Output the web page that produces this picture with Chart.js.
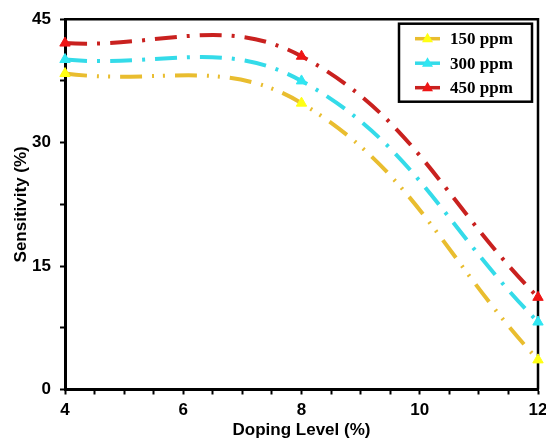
<!DOCTYPE html>
<html>
<head>
<meta charset="utf-8">
<script src="https://cdn.jsdelivr.net/npm/chart.js@4.4.0/dist/chart.umd.min.js"></script>
<style>
  html, body { margin: 0; padding: 0; background: #fff; }
  #wrap { width: 546px; height: 441px; }
</style>
</head>
<body>
<div id="wrap"><canvas id="sensChart"></canvas></div>
<script>
// doping level (%) vs sensitivity (%) at three gas concentrations
const dopingLevels = [4, 8, 12];
const sens150 = [38.4, 34.8, 3.6];
const sens300 = [40.1, 37.5, 8.2];
const sens450 = [42.1, 40.5, 11.2];
const seriesLabels = ['150 ppm', '300 ppm', '450 ppm'];
const xTickLabels = [4, 6, 8, 10, 12];
const yTickLabels = [0, 15, 30, 45];

const AXIS_FONT = { family: 'Liberation Sans, Arial, sans-serif', size: 17, weight: 'bold' };

function toPoints(vals) {
  return dopingLevels.map((x, i) => ({ x: x, y: vals[i] }));
}

function makeSeries(label, vals, line, marker, dash) {
  return {
    label: label,
    data: toPoints(vals),
    borderColor: line,
    backgroundColor: marker,
    borderWidth: 4,
    borderDash: dash,
    pointStyle: 'triangle',
    pointRadius: 6,
    pointBackgroundColor: marker,
    pointBorderColor: marker,
    pointBorderWidth: 1,
    tension: 0.4,
    fill: false,
    clip: false
  };
}

// top + right edges of the plot box (left/bottom come from the axes)
const frameBox = {
  id: 'frameBox',
  beforeDatasetsDraw(chart) {
    const { ctx, chartArea: a } = chart;
    ctx.save();
    ctx.strokeStyle = '#000';
    ctx.lineWidth = 2.5;
    ctx.beginPath();
    ctx.moveTo(a.left, a.top);
    ctx.lineTo(a.right, a.top);
    ctx.lineTo(a.right, a.bottom);
    ctx.stroke();
    ctx.restore();
  }
};

// boxed legend in the top-right corner of the plot
const boxLegend = {
  id: 'boxLegend',
  afterDraw(chart) {
    const { ctx, chartArea: a } = chart;
    const w = 133, h = 78;
    const left = a.right - 6 - w;
    const top = a.top + 4.5;
    ctx.save();
    ctx.fillStyle = '#fff';
    ctx.fillRect(left, top, w, h);
    ctx.strokeStyle = '#000';
    ctx.lineWidth = 2.5;
    ctx.strokeRect(left, top, w, h);

    chart.data.datasets.forEach((ds, row) => {
      const y = top + 15 + row * 24.5;
      ctx.strokeStyle = ds.borderColor;
      ctx.lineWidth = 3.5;
      ctx.setLineDash([]);
      ctx.beginPath();
      ctx.moveTo(left + 16, y);
      ctx.lineTo(left + 41, y);
      ctx.stroke();
      ctx.fillStyle = ds.pointBackgroundColor;
      ctx.beginPath();
      ctx.moveTo(left + 28.5, y - 6);
      ctx.lineTo(left + 34, y + 3.5);
      ctx.lineTo(left + 23, y + 3.5);
      ctx.closePath();
      ctx.fill();
      ctx.fillStyle = '#000';
      ctx.font = 'bold 17px "Liberation Serif", "Times New Roman", serif';
      ctx.textBaseline = 'middle';
      ctx.fillText(ds.label, left + 51, y + 1);
    });
    ctx.restore();
  }
};

window.addEventListener('DOMContentLoaded', () => {
  const ctx = document.getElementById('sensChart');
  new Chart(ctx, {
    type: 'line',
    data: {
      datasets: [
        makeSeries(seriesLabels[0], sens150, '#e9bd2f', '#ffff14', [22, 10, 2, 9, 2, 10]),
        makeSeries(seriesLabels[1], sens300, '#34dbe9', '#30e6f2', [22, 10, 3, 10]),
        makeSeries(seriesLabels[2], sens450, '#c9211f', '#ee1515', [22, 10, 3, 10])
      ]
    },
    options: {
      responsive: true,
      maintainAspectRatio: false,
      devicePixelRatio: 1,
      animation: false,
      layout: { padding: { top: 18, right: 8, left: 7, bottom: 0 } },
      elements: { line: { capBezierPoints: false } },
      plugins: {
        legend: { display: false },
        tooltip: { enabled: false }
      },
      scales: {
        x: {
          type: 'linear',
          min: 4,
          max: 12,
          afterFit: s => {
            s.height = 51.5;
            // let the "12" label hang into the right margin
            s.paddingLeft = 0;
            s.paddingRight = 0;
          },
          ticks: {
            stepSize: 0.5,
            autoSkip: false,
            maxRotation: 0,
            padding: 6,
            color: '#000',
            font: AXIS_FONT,
            callback: v => xTickLabels.includes(v) ? String(v) : ''
          },
          grid: {
            drawOnChartArea: false,
            tickLength: 5,
            tickColor: '#000',
            tickWidth: 2
          },
          border: { color: '#000', width: 3 },
          title: {
            display: true,
            text: 'Doping Level (%)',
            color: '#000',
            font: AXIS_FONT,
            padding: { top: 0, bottom: 0 }
          }
        },
        y: {
          min: 0,
          max: 45,
          afterFit: s => { s.width = 58; },
          ticks: {
            stepSize: 7.5,
            autoSkip: false,
            padding: 9,
            color: '#000',
            font: AXIS_FONT,
            callback: v => yTickLabels.includes(v) ? String(v) : ''
          },
          grid: {
            drawOnChartArea: false,
            tickLength: 5,
            tickColor: '#000',
            tickWidth: 2
          },
          border: { color: '#000', width: 3 },
          title: {
            display: true,
            text: 'Sensitivity (%)',
            color: '#000',
            font: AXIS_FONT,
            padding: { top: 4, bottom: 0 }
          }
        }
      }
    },
    plugins: [frameBox, boxLegend]
  });
});
</script>
</body>
</html>
